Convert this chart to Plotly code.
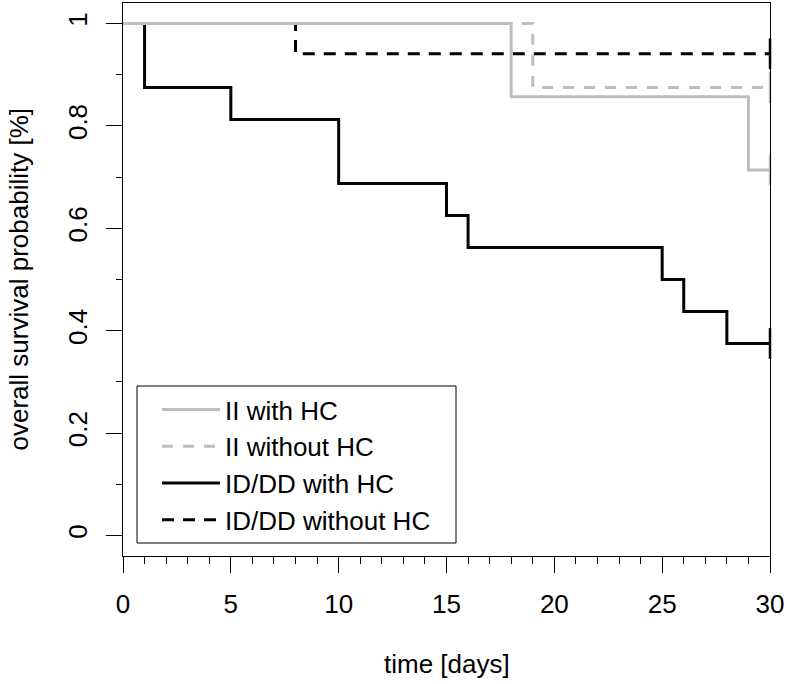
import plotly.graph_objects as go

# ---- data (Kaplan-Meier step curves) ----
series_names = ["II with HC", "II without HC", "ID/DD with HC", "ID/DD without HC"]

ii_hc_time = [0, 18, 29, 30]
ii_hc_surv = [1.0, 0.857, 0.714, 0.714]

ii_nohc_time = [0, 19, 30]
ii_nohc_surv = [1.0, 0.875, 0.875]

iddd_hc_time = [0, 1, 5, 10, 15, 16, 25, 26, 28, 30]
iddd_hc_surv = [1.0, 0.875, 0.8125, 0.6875, 0.625, 0.5625, 0.5, 0.4375, 0.375, 0.375]

iddd_nohc_time = [0, 8, 30]
iddd_nohc_surv = [1.0, 0.941, 0.941]

x_ticks = [0, 5, 10, 15, 20, 25, 30]
y_ticks = [0, 0.2, 0.4, 0.6, 0.8, 1]
y_tick_labels = ["0", "0.2", "0.4", "0.6", "0.8", "1"]

GRAY = "#BEBEBE"
BLACK = "#000000"
FONT = "Liberation Sans, Arial, sans-serif"
FS = 26
W, H = 787, 684
L, R, T, B = 123, 17, 3, 128
PW, PH = W - L - R, H - T - B

def px_x(p):
    return (p - L) / PW

def px_y(p):
    return (H - B - p) / PH

curves = [
    # (name, times, surv, color, dash, legendrank)
    (series_names[2], iddd_hc_time, iddd_hc_surv, BLACK, "solid", 3),
    (series_names[3], iddd_nohc_time, iddd_nohc_surv, BLACK, "12px,9px", 4),
    (series_names[1], ii_nohc_time, ii_nohc_surv, GRAY, "11px,10px", 2),
    (series_names[0], ii_hc_time, ii_hc_surv, GRAY, "solid", 1),
]

fig = go.Figure()
for name, t, s, col, dash, rank in curves:
    fig.add_trace(go.Scatter(
        x=t, y=s, mode="lines", name=name, line_shape="hv",
        line=dict(color=col, width=3, dash=dash), legendrank=rank,
    ))
# censoring marks at end of follow-up
for name, t, s, col, dash, rank in curves:
    fig.add_trace(go.Scatter(
        x=[t[-1]], y=[s[-1]], mode="markers", showlegend=False, hoverinfo="skip",
        marker=dict(symbol="line-ns", size=22, line=dict(color=col, width=2.5)),
        cliponaxis=False,
    ))

fig.update_layout(
    width=W, height=H,
    margin=dict(l=L, r=R, t=T, b=B),
    paper_bgcolor="white", plot_bgcolor="white",
    font=dict(family=FONT, size=FS, color="black"),
    showlegend=True,
    legend=dict(
        x=px_x(157), y=px_y(386), xanchor="left", yanchor="top",
        bgcolor="rgba(0,0,0,0)", borderwidth=0,
        font=dict(family=FONT, size=FS, color="black"),
        itemwidth=58, tracegroupgap=0,
    ),
    xaxis=dict(
        range=[0, 30], tickvals=x_ticks, ticktext=[str(v) for v in x_ticks],
        showgrid=False, zeroline=False,
        showline=True, linecolor="black", linewidth=1, mirror=True,
        ticks="outside", ticklen=16, tickwidth=1, tickcolor="black",
        ticklabelstandoff=9,
        minor=dict(dtick=1, tick0=0, ticks="outside", ticklen=7, tickwidth=1,
                   tickcolor="black", showgrid=False),
        tickfont=dict(size=FS),
    ),
    yaxis=dict(
        range=[-0.04, 1.04], tickvals=y_ticks, ticktext=y_tick_labels,
        tickangle=-90,
        showgrid=False, zeroline=False,
        showline=True, linecolor="black", linewidth=1, mirror=True,
        ticks="outside", ticklen=16, tickwidth=1, tickcolor="black",
        ticklabelstandoff=9,
        minor=dict(dtick=0.1, tick0=0, ticks="outside", ticklen=6, tickwidth=1,
                   tickcolor="black", showgrid=False),
        tickfont=dict(size=FS),
    ),
    shapes=[dict(
        type="rect", xref="paper", yref="paper",
        x0=px_x(137), x1=px_x(456), y0=px_y(543), y1=px_y(386),
        line=dict(color="black", width=1), fillcolor="rgba(0,0,0,0)", layer="above",
    )],
    annotations=[
        dict(text="time [days]", xref="paper", yref="paper",
             x=0.5, y=px_y(664), xanchor="center", yanchor="middle",
             showarrow=False, font=dict(size=FS)),
        dict(text="overall survival probability [%]", xref="paper", yref="paper",
             x=px_x(18), y=0.5, xanchor="center", yanchor="middle", textangle=-90,
             showarrow=False, font=dict(size=FS)),
    ],
)

fig.write_html(
    "out.html",
    config={"displayModeBar": False},
    post_script="document.body.style.margin='0';document.body.style.overflow='hidden';",
)
